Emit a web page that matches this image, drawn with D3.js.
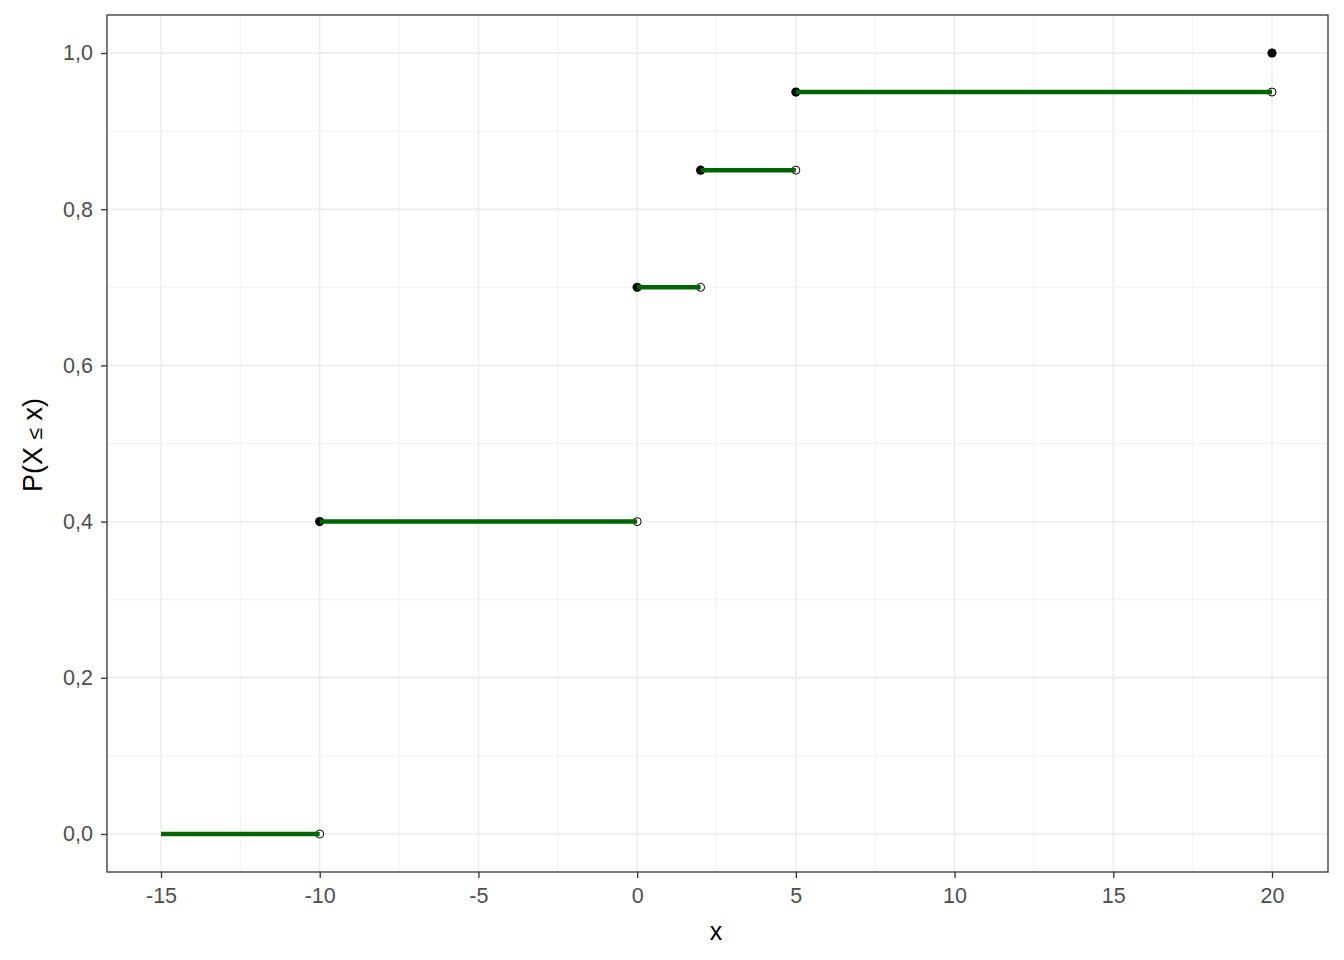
<!DOCTYPE html>
<html><head><meta charset="utf-8">
<script src="https://cdn.jsdelivr.net/npm/d3@7"></script>
<style>body{margin:0;background:#fff}svg{display:block}text{font-family:"Liberation Sans",Arial,sans-serif}</style>
</head><body><svg id="c" width="1344" height="960"></svg>
<script>
const segStart = [-15, -10, 0, 2, 5];
const segEnd   = [-10, 0, 2, 5, 20];
const segProb  = [0, 0.4, 0.7, 0.85, 0.95];
const closedX  = [-10, 0, 2, 5, 20];
const closedY  = [0.4, 0.7, 0.85, 0.95, 1.0];
const openX    = [-10, 0, 2, 5, 20];
const openY    = [0, 0.4, 0.7, 0.85, 0.95];
const xTicks = [-15, -10, -5, 0, 5, 10, 15, 20];
const xMinor = [-12.5, -7.5, -2.5, 2.5, 7.5, 12.5, 17.5];
const yTicks = [0, 0.2, 0.4, 0.6, 0.8, 1.0];
const yMinor = [0.1, 0.3, 0.5, 0.7, 0.9];

const svg = d3.select("#c");
const L = 107, R = 1328, T = 15, B = 872;
const x = d3.scaleLinear().domain([-15, 20]).range([161, 1272]);
const y = d3.scaleLinear().domain([0, 1]).range([834, 53]);
const fmt = d => d3.format(".1f")(d).replace(".", ",");

const g = svg.append("g");
// grid
g.selectAll(".xmin").data(xMinor).enter().append("line")
  .attr("x1", d => x(d)).attr("x2", d => x(d)).attr("y1", T).attr("y2", B)
  .attr("stroke", "#EBEBEB").attr("stroke-width", 0.7);
g.selectAll(".ymin").data(yMinor).enter().append("line")
  .attr("y1", d => y(d)).attr("y2", d => y(d)).attr("x1", L).attr("x2", R)
  .attr("stroke", "#EBEBEB").attr("stroke-width", 0.7);
g.selectAll(".xmaj").data(xTicks).enter().append("line")
  .attr("x1", d => x(d)).attr("x2", d => x(d)).attr("y1", T).attr("y2", B)
  .attr("stroke", "#EBEBEB").attr("stroke-width", 1.4);
g.selectAll(".ymaj").data(yTicks).enter().append("line")
  .attr("y1", d => y(d)).attr("y2", d => y(d)).attr("x1", L).attr("x2", R)
  .attr("stroke", "#EBEBEB").attr("stroke-width", 1.4);

// points
g.selectAll(".open").data(openX).enter().append("circle")
  .attr("cx", d => x(d)).attr("cy", (d, i) => y(openY[i])).attr("r", 4)
  .attr("fill", "#fff").attr("stroke", "#000").attr("stroke-width", 1);
g.selectAll(".closed").data(closedX).enter().append("circle")
  .attr("cx", d => x(d)).attr("cy", (d, i) => y(closedY[i])).attr("r", 4.6)
  .attr("fill", "#000");
// segments
g.selectAll(".seg").data(segStart).enter().append("line")
  .attr("x1", d => x(d)).attr("x2", (d, i) => x(segEnd[i]))
  .attr("y1", (d, i) => y(segProb[i])).attr("y2", (d, i) => y(segProb[i]))
  .attr("stroke", "#006400").attr("stroke-width", 4.5);

// border
svg.append("rect").attr("x", L).attr("y", T).attr("width", R - L).attr("height", B - T)
  .attr("fill", "none").attr("stroke", "#333333").attr("stroke-width", 1.3);

// axes
const xa = svg.append("g").attr("transform", `translate(0,${B})`)
  .call(d3.axisBottom(x).tickValues(xTicks).tickSize(6).tickPadding(10).tickFormat(d => String(d)));
const ya = svg.append("g").attr("transform", `translate(${L},0)`)
  .call(d3.axisLeft(y).tickValues(yTicks).tickSize(6).tickPadding(8).tickFormat(fmt));
[xa, ya].forEach(a => {
  a.select(".domain").remove();
  a.selectAll(".tick line").attr("stroke", "#333333").attr("stroke-width", 1.3);
  a.selectAll(".tick text").attr("fill", "#4D4D4D").style("font-size", "21.5px")
   .style("font-family", '"Liberation Sans",Arial,sans-serif');
});

svg.append("text").attr("x", 716).attr("y", 940).attr("text-anchor", "middle")
  .style("font-size", "25px").attr("fill", "#000").text("x");
const yt = svg.append("text").attr("transform", "translate(42,445) rotate(-90)")
  .attr("text-anchor", "middle").style("font-size", "27px").attr("fill", "#000");
yt.append("tspan").text("P(X ");
yt.append("tspan").style("font-size", "21px").text("≤");
yt.append("tspan").text(" x)");
</script></body></html>
